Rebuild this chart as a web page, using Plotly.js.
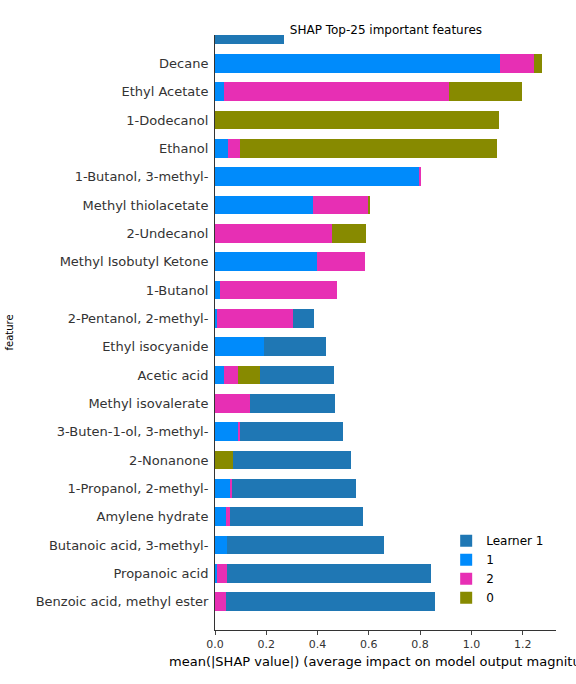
<!DOCTYPE html>
<html>
<head>
<meta charset="utf-8">
<script src="https://cdn.plot.ly/plotly-3.0.1.min.js"></script>
<style>body{margin:0}</style>
</head>
<body>
<div id="chart" style="width:576px;height:684px"></div>
<script>
// bottom to top; last entry is the cut-off bar at the top
var features = ['Benzoic acid, methyl ester', 'Propanoic acid', 'Butanoic acid, 3-methyl-', 'Amylene hydrate',
    '1-Propanol, 2-methyl-', '2-Nonanone', '3-Buten-1-ol, 3-methyl-', 'Methyl isovalerate', 'Acetic acid',
    'Ethyl isocyanide', '2-Pentanol, 2-methyl-', '1-Butanol', 'Methyl Isobutyl Ketone', '2-Undecanol',
    'Methyl thiolacetate', '1-Butanol, 3-methyl-', 'Ethanol', '1-Dodecanol', 'Ethyl Acetate', 'Decane', ' ']
var class1 = [0, 0.008, 0.047, 0.043, 0.059, 0, 0.09, 0, 0.035, 0.192, 0.008, 0.02, 0.396, 0, 0.384, 0.796, 0.05, 0, 0.035, 1.11, 0]
var class2 = [0.043, 0.039, 0, 0.016, 0.008, 0, 0.008, 0.137, 0.055, 0, 0.298, 0.455, 0.188, 0.455, 0.212, 0.004, 0.048, 0, 0.879, 0.135, 0]
var class0 = [0, 0, 0, 0, 0, 0.07, 0, 0, 0.086, 0, 0, 0, 0, 0.133, 0.008, 0, 1.002, 1.106, 0.282, 0.03, 0]
var learner1 = [0.816, 0.796, 0.612, 0.517, 0.482, 0.459, 0.4, 0.33, 0.287, 0.239, 0.082, 0, 0, 0, 0, 0, 0, 0, 0, 0, 0.27]

function trace(name, vals, color, rank) {
    return {type: 'bar', orientation: 'h', y: features, x: vals, name: name,
        marker: {color: color}, legendrank: rank, hoverinfo: 'x+name'}
}

var data = [
    trace('1', class1, '#008bfb', 2),
    trace('2', class2, '#e72fb4', 3),
    trace('0', class0, '#878a00', 4),
    trace('Learner 1', learner1, '#1f77b4', 1)
]

var layout = {
    width: 576, height: 684,
    barmode: 'stack', bargap: 0.33,
    font: {family: 'DejaVu Sans', color: '#333'},
    title: {text: 'SHAP Top-25 important features', font: {size: 12, color: '#000'}, x: 0.67, xanchor: 'center', y: 0.962},
    margin: {l: 215, r: 20, t: 35, b: 54},
    plot_bgcolor: '#fff', paper_bgcolor: '#fff',
    xaxis: {
        range: [0, 1.33], tickvals: [0, 0.2, 0.4, 0.6, 0.8, 1.0, 1.2],
        ticktext: ['0.0', '0.2', '0.4', '0.6', '0.8', '1.0', '1.2'],
        showgrid: false, zeroline: false, showline: true, linecolor: '#333',
        ticks: 'outside', ticklen: 4, tickfont: {size: 11},
        title: {text: 'mean(|SHAP value|) (average impact on model output magnitude)', font: {size: 13, color: '#000'}, standoff: 6}
    },
    yaxis: {
        range: [-1, 20], showgrid: false, zeroline: false, showline: true, linecolor: '#333',
        ticks: 'outside', ticklen: 3, tickcolor: '#fff', tickfont: {size: 13},
        title: {text: 'feature', font: {size: 10, color: '#000'}, standoff: 20}
    },
    legend: {x: 0.98, xanchor: 'right', y: 0.03, yanchor: 'bottom', traceorder: 'normal',
        font: {size: 12, color: '#000'}, bgcolor: 'rgba(255,255,255,0.8)'},
    showlegend: true
}

Plotly.newPlot('chart', data, layout, {displayModeBar: false})
</script>
</body>
</html>
